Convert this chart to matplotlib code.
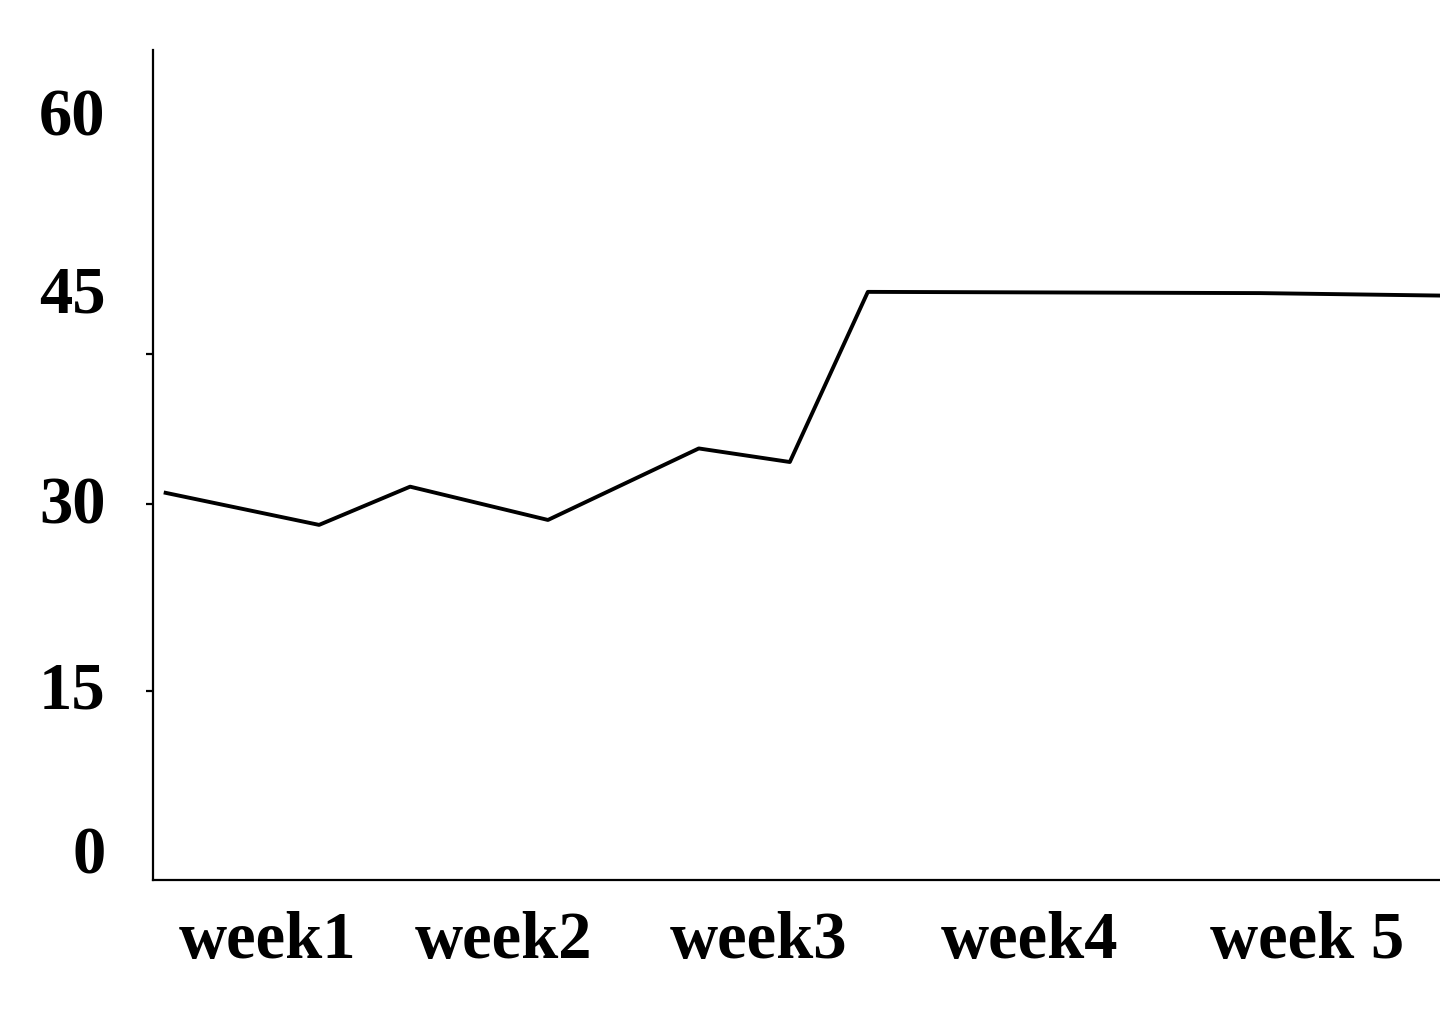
import matplotlib
matplotlib.use("Agg")
import matplotlib.pyplot as plt

# data
x_vals = [0.05, 0.64, 0.99, 1.52, 2.10, 2.45, 2.75, 4.26, 4.95]
y_vals = [31.4, 28.8, 31.9, 29.2, 35.0, 33.9, 47.7, 47.6, 47.4]
x_labels = ["week1", "week2", "week3", "week4", "week 5"]
x_label_pos = [0.44, 1.35, 2.33, 3.37, 4.44]
y_labels = ["0", "15", "30", "45", "60"]
y_label_pos = [2.4, 15.8, 30.8, 47.9, 62.3]
y_tick_marks = [15.3, 30.5, 42.7]

fig = plt.figure(figsize=(14.4, 10.25), dpi=100)
ax = fig.add_axes([0.106, 0.1415, 0.894, 0.8095])
ax.plot(x_vals, y_vals, color="black", lw=2.8)
ax.set_xlim(0, 4.95)
ax.set_ylim(0, 67.3)
for s in ["top", "right"]:
    ax.spines[s].set_visible(False)
for s in ["left", "bottom"]:
    ax.spines[s].set_linewidth(1.6)
font = dict(family="Liberation Serif", weight="bold", size=48)
ax.set_yticks(y_label_pos)
ax.set_yticklabels(y_labels, **font)
ax.tick_params(axis="y", length=0, pad=34)
ax.set_yticks(y_tick_marks, minor=True)
ax.tick_params(axis="y", which="minor", length=5, width=1.6)
ax.set_xticks(x_label_pos)
ax.set_xticklabels(x_labels, **font)
ax.tick_params(axis="x", length=0, pad=22)
fig.savefig("out.png", dpi=100)
